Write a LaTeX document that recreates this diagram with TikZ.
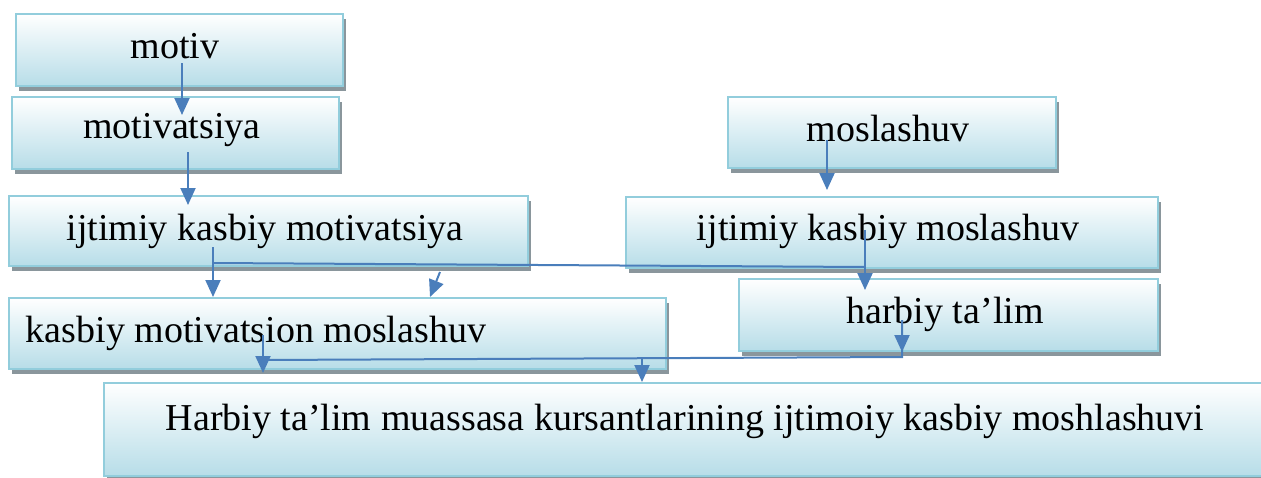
\documentclass[tikz,border=0pt]{standalone}
\usepackage{fontspec}
\setmainfont{Liberation Serif}
\usetikzlibrary{arrows.meta,shadows}
\definecolor{boxline}{RGB}{146,205,220}
\definecolor{boxbot}{RGB}{183,221,232}
\definecolor{shadowc}{RGB}{138,150,156}
\definecolor{arrc}{RGB}{74,126,187}
\tikzset{
  box/.style={draw=boxline, line width=1.5pt, top color=white, bottom color=boxbot,
    anchor=north west, inner sep=0pt,
    drop shadow={shadow xshift=3pt, shadow yshift=-5pt, fill=shadowc, opacity=1}},
  lbl/.style={font=\fontsize{38}{44}\selectfont, inner sep=0pt, anchor=base},
  arr/.style={draw=arrc, line width=2pt, -{Triangle[width=15pt,length=17pt]}},
  link/.style={draw=arrc, line width=2pt}
}
\begin{document}
\begin{tikzpicture}[x=1pt,y=-1pt]
\useasboundingbox (0,0) rectangle (1261,477);
% boxes
\node[box, minimum width=327pt, minimum height=72pt] (b1) at (15,13) {};
\node[box, minimum width=327pt, minimum height=72pt] (b2) at (11,96) {};
\node[box, minimum width=519pt, minimum height=70pt] (b3) at (8,195) {};
\node[box, minimum width=328pt, minimum height=71pt] (b5) at (727,96) {};
\node[box, minimum width=532pt, minimum height=71pt] (b6) at (625,196) {};
\node[box, minimum width=657pt, minimum height=71pt] (b4) at (8,297) {};
\node[box, minimum width=419pt, minimum height=72pt] (b7) at (738,278) {};
\node[box, minimum width=1170pt, minimum height=93pt] (b8) at (103,382) {};
% labels
\node[lbl] (t1) at (175,58) {motiv};
\node[lbl] (t2) at (172,138) {motivatsiya};
\node[lbl] (t3) at (265,240) {ijtimiy kasbiy motivatsiya};
\node[lbl] (t4) at (256,342) {kasbiy motivatsion moslashuv};
\node[lbl] (t5) at (888,141) {moslashuv};
\node[lbl] (t6) at (888,240) {ijtimiy kasbiy moslashuv};
\node[lbl] (t7) at (945,323) {harbiy ta’lim};
\node[lbl] (t8) at (685,430) {Harbiy ta’lim muassasa kursantlarining ijtimoiy kasbiy moshlashuvi};
% connector points
\coordinate (p1s) at (182,63);  \coordinate (p1e) at (182,115);
\coordinate (p2s) at (188,152); \coordinate (p2e) at (188,205);
\coordinate (p3s) at (213,247); \coordinate (p3e) at (213,297);
\coordinate (h1a) at (213,263); \coordinate (h1b) at (865,267);
\coordinate (p4s) at (440,272); \coordinate (p4e) at (430,297);
\coordinate (p5s) at (827,140); \coordinate (p5e) at (827,190);
\coordinate (p6s) at (865,230); \coordinate (p6e) at (865,290);
\coordinate (p7s) at (263,335); \coordinate (p7e) at (263,373);
\coordinate (h2a) at (263,360); \coordinate (h2b) at (902,357);
\coordinate (p8s) at (642,357); \coordinate (p8e) at (642,382);
\coordinate (p9s) at (902,320); \coordinate (p9e) at (902,352);
% connectors
\draw[arr] (p1s) -- (p1e);
\draw[arr] (p2s) -- (p2e);
\draw[link] (h1a) -- (h1b);
\draw[arr] (p3s) -- (p3e);
\draw[arr] (p4s) -- (p4e);
\draw[arr] (p5s) -- (p5e);
\draw[arr] (p6s) -- (p6e);
\draw[link] (p9s) -- (h2b) -- (h2a);
\draw[arr] (p7s) -- (p7e);
\draw[arr] (p8s) -- (p8e);
\draw[arr] (p9s) -- (p9e);
\end{tikzpicture}
\end{document}
